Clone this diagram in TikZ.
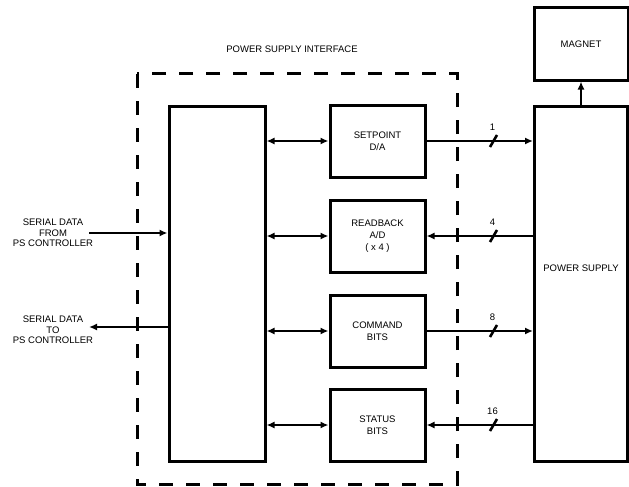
\documentclass[tikz,border=0pt]{standalone}
\usepackage{fontspec}
\setmainfont{Liberation Sans}
\usetikzlibrary{arrows.meta}
\tikzset{
  block/.style={draw,line width=3pt,inner sep=0pt,align=center,
    font=\fontsize{9.5}{12}\selectfont},
  txt/.style={inner sep=0pt,align=center,font=\fontsize{9.5}{10.5}\selectfont},
  bus/.style={line width=2.4pt},
  tops/.style={-{Latex[length=8pt,width=7pt]}},
  fromps/.style={{Latex[length=8pt,width=7pt]}-},
  both/.style={{Latex[length=8pt,width=7pt]}-{Latex[length=8pt,width=7pt]}}
}

\begin{document}
\begin{tikzpicture}[x=1pt,y=-1pt]
  \useasboundingbox (0,0) rectangle (629,487);
  % interface boundary
  \draw[line width=3pt,dash pattern=on 14pt off 13pt] (137,74) rectangle (457,484);
  \node[txt] (title) at (292,49) {POWER SUPPLY INTERFACE};
  \node[block,minimum width=96pt,minimum height=355pt] (hub) at (217,283.5) {};
  \node[block,minimum width=93pt,minimum height=355pt] (ps) at (581,283.5) {};
  \node[txt] (pstext) at ([yshift=15pt]ps.center) {POWER SUPPLY};
  \node[block,minimum width=94pt,minimum height=72pt] (magnet) at (581,44) {MAGNET};
  \draw[bus,tops] (ps.north) -- (magnet.south);
  % channels
  \foreach \name/\ypos/\text/\bits/\dir in {
      sp/141/{SETPOINT\\D/A}/1/tops,
      rb/236/{READBACK\\A/D\\( x 4 )}/4/fromps,
      cmd/331/{COMMAND\\BITS}/8/tops,
      st/425/{STATUS\\BITS}/16/fromps} {
    \node[block,minimum width=95pt,minimum height=72pt] (\name) at (377.5,\ypos) {\text};
    \draw[bus,both] (hub.east |- \name.west) -- (\name.west);
    \draw[bus,\dir] (\name.east) -- (ps.west |- \name.east);
    \coordinate (\name-tick) at (493.5,\ypos);
    \draw[line width=2.6pt] ([shift={(-3.5,6)}]\name-tick) -- ([shift={(3.5,-6)}]\name-tick);
    \node[txt] (\name-bits) at ([shift={(-1,-14)}]\name-tick) {\bits};
  }
  % serial links
  \node[txt] (rxtext) at (53,233) {SERIAL DATA\\FROM\\PS CONTROLLER};
  \coordinate (rx) at (89,233);
  \draw[bus,tops] (rx) -- (hub.west |- rx);
  \node[txt] (txtext) at (53,330) {SERIAL DATA\\TO\\PS CONTROLLER};
  \coordinate (tx) at (89,327);
  \draw[bus,tops] (hub.west |- tx) -- (tx);
\end{tikzpicture}
\end{document}
